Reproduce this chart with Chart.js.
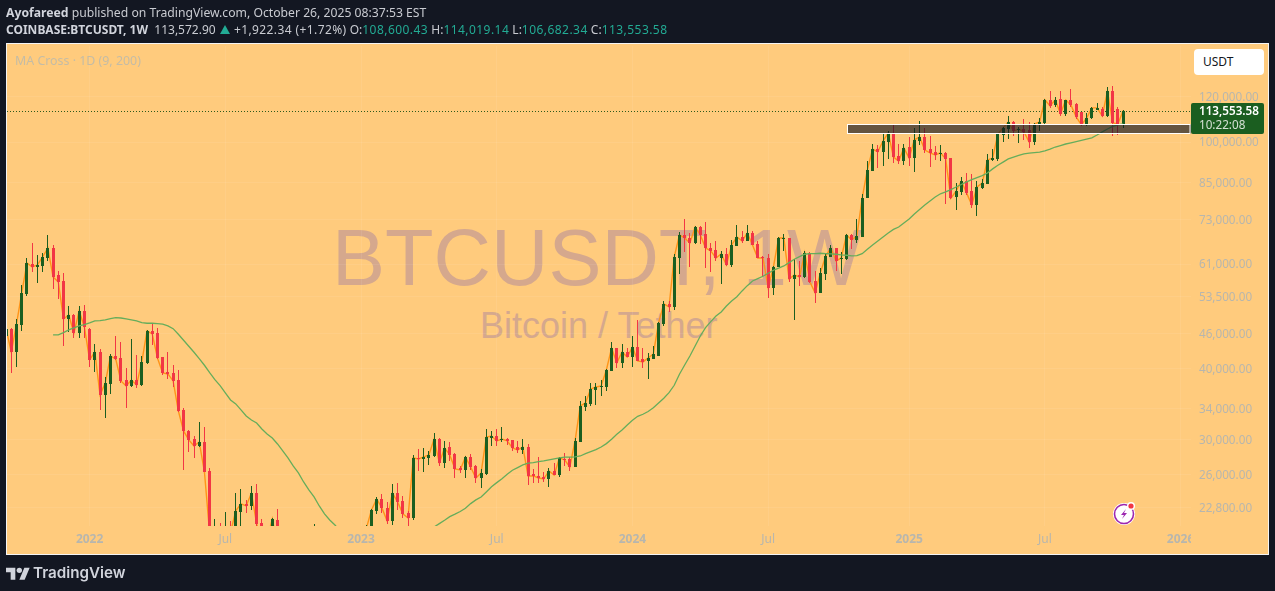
<!DOCTYPE html>
<html>
<head>
<meta charset="utf-8">
<title>BTCUSDT 1W</title>
<script src="https://cdn.jsdelivr.net/npm/chart.js@4"></script>
<style>
  html, body { margin: 0; padding: 0; width: 1275px; height: 591px; overflow: hidden; background: #131722; font-family: "Noto Sans", sans-serif; }
  .abs { position: absolute; white-space: nowrap; }
  #pane { left: 6px; top: 43px; width: 1261px; height: 510px; background: #ffcb7d; border: 1px solid #f5f5f5; }
  #chart { position: absolute; left: 0; top: 0; z-index: 2; }
  .head { left: 6px; font-size: 12.2px; color: #c9cbd1; line-height: 16px; z-index: 3; }
  .head b { color: #d1d4dc; font-weight: 700; }
  .line2 { font-size: 12px; }
  .teal { color: #22ab94; letter-spacing: 0.45px; }
  .chg { letter-spacing: 0.4px; }
  .tri { display: inline-block; width: 0; height: 0; margin: 0 1px 0 1px; border-left: 5px solid transparent; border-right: 5px solid transparent; border-bottom: 9px solid #22ab94; }
  #wm1, #wm2 { font-family: "Liberation Sans", sans-serif; color: #d5a88d; z-index: 1; }
  #wm1 { left: 332px; top: 212px; font-size: 79.5px; line-height: 92px; }
  #wm2 { left: 480px; top: 305px; font-size: 36px; line-height: 42px; }
  #study { left: 15px; top: 53px; font-size: 12.4px; line-height: 16px; color: #c4bca6; z-index: 3; }
  #unit { left: 1194px; top: 49px; width: 61px; height: 26px; padding-left: 9px; line-height: 26px; background: #fff; border-radius: 4px; font-size: 12px; color: #131722; z-index: 3; }
  #tag { left: 1191px; top: 103px; width: 73px; height: 31px; background: #1b5e20; border-radius: 2px; z-index: 3; font-size: 11.7px; line-height: 15px; }
  #tag div { position: absolute; left: 8px; }
  #mask { left: 1191px; top: 527px; width: 77px; height: 27px; background: #ffcb7d; z-index: 3; }
  #flash { left: 1112px; top: 501px; z-index: 3; }
  #logo { left: 6px; top: 565px; z-index: 3; }
  #brand { left: 33px; top: 562px; font-family: Inter, sans-serif; font-weight: 600; font-size: 15.2px; line-height: 22px; color: #d1d4dc; z-index: 3; }
</style>
</head>
<body>
<div class="abs head" style="top:5px"><b>Ayofareed</b> published on TradingView.com, October 26, 2025 08:37:53 EST</div>
<div class="abs head line2" style="top:22px"><b>COINBASE:BTCUSDT, 1W</b>&nbsp; 113,572.90 <span class="tri"></span> <span class="chg">+1,922.34 (+1.72%)</span> O:<span class="teal">108,600.43</span> H:<span class="teal">114,019.14</span> L:<span class="teal">106,682.34</span> C:<span class="teal">113,553.58</span></div>
<div class="abs" id="pane"></div>
<div class="abs" id="wm1">BTCUSDT, 1W</div>
<div class="abs" id="wm2">Bitcoin / Tether</div>
<canvas id="chart" width="1275" height="591"></canvas>
<div class="abs" id="study">MA Cross · 1D (9, 200)</div>
<div class="abs" id="unit">USDT</div>
<div class="abs" id="tag">
  <div style="top:0px;color:#fff;font-weight:600">113,553.58</div>
  <div style="top:14px;color:#d3e0d3">10:22:08</div>
</div>
<div class="abs" id="mask"></div>
<svg class="abs" id="flash" width="26" height="26" viewBox="0 0 26 26">
  <circle cx="12" cy="13" r="11" fill="#fff"/>
  <circle cx="12" cy="13" r="9.5" fill="#fff" stroke="#9c27b0" stroke-width="1.6"/>
  <path d="M14 8l-5 6h3l-2 4 5-6h-3z" fill="#9c27b0"/>
  <circle cx="19" cy="5" r="4" fill="#fff"/>
  <circle cx="19" cy="5" r="2.6" fill="#f23645"/>
</svg>
<svg class="abs" id="logo" width="24" height="16" viewBox="0 0 36 24"><path fill="#d1d4dc" d="M14 22H7V11H0V4h14v18zM28 22h-8l7.5-18h8L28 22z"/><circle fill="#d1d4dc" cx="20" cy="8" r="4"/></svg>
<div class="abs" id="brand">TradingView</div>

<script>
// weekly candles, prices in thousands of USD
const opens = [
  45.6,46.92,42.75,47.69,54.07,61.05,60.3,60.55,62.54,65.13,
  58.39,56.99,48.86,49.66,46.17,50.47,46.92,41.39,42.75,35.92,
  37.56,42.06,41.72,38.17,37.25,38.17,37.41,40.89,46.55,46.17,
  41.89,39.43,39.27,38.17,33.81,31.05,30.06,29.22,29.7,26.41,
  20.5,20.9,19.3,20.8,20.6,22.37,23.11,22.92,24.16,21.4,
  19.6,19.9,21.66,19.5,18.8,19.3,19.4,19.2,19.6,20.6,
  21.0,16.3,16.3,16.4,17.1,17.1,16.8,16.8,16.6,17.1,
  20.9,22.47,23.58,22.74,21.57,24.16,23.39,22.28,21.83,27.84,
  27.73,27.84,28.06,30.06,27.28,29.1,28.3,26.73,26.52,27.95,
  26.95,25.67,26.09,30.18,30.42,29.94,30.06,29.94,29.1,28.76,
  29.1,26.09,25.88,25.77,25.57,26.41,25.98,27.73,27.73,26.84,
  29.7,34.21,34.64,36.66,37.1,37.1,39.59,43.45,40.89,42.75,
  41.89,43.62,41.56,41.23,41.56,42.06,47.89,51.93,51.29,62.54,
  68.65,67.82,66.47,70.9,68.93,65.13,64.61,62.54,63.57,60.8,
  65.66,68.09,67.01,69.22,66.2,62.79,62.54,55.39,60.3,67.55,
  67.82,57.45,58.39,57.91,63.83,56.99,54.29,58.63,62.79,65.13,
  62.29,62.29,68.65,67.28,68.09,79.7,88.9,97.2,96.1,100.0,
  103.8,94.5,92.6,98.0,93.7,100.4,102.1,97.2,96.1,95.3,
  95.7,93.7,80.1,81.7,85.4,82.0,77.5,83.0,84.4,93.0,
  93.4,102.9,105.4,108.5,105.0,105.4,105.0,100.0,107.2,108.0,
  118.6,116.2,119.0,112.0,118.6,116.7,112.9,107.2,110.2,113.9,
  114.3,111.1,122.9,114.3,107.6
];
const highs = [
  47.11,47.11,48.86,56.07,62.54,66.47,63.31,63.83,68.65,65.93,
  59.34,58.87,51.5,49.86,51.5,51.71,47.11,44.16,43.27,38.63,
  42.41,45.61,44.52,40.07,45.06,42.24,42.06,46.74,47.89,47.11,
  41.89,42.75,40.56,39.75,34.08,31.17,30.42,32.2,31.55,26.73,
  21.75,21.4,22.37,21.57,24.16,24.55,23.49,24.85,25.06,21.75,
  20.6,21.8,22.65,20.2,20.3,20.4,19.9,19.7,20.8,21.31,
  21.0,17.1,16.8,17.3,17.4,18.4,17.0,16.9,17.4,21.22,
  22.65,23.77,24.06,23.3,25.06,25.16,23.87,22.47,28.18,28.87,
  28.99,28.64,30.8,30.18,29.82,29.7,28.41,26.95,28.06,28.3,
  27.06,26.62,31.3,31.05,31.3,31.55,30.18,29.94,29.82,30.06,
  29.46,26.62,27.95,26.3,26.73,27.28,27.95,28.41,27.95,30.18,
  35.06,35.78,37.71,37.71,38.17,39.91,44.52,43.45,44.16,43.45,
  45.61,48.67,43.45,42.58,43.8,48.28,52.56,52.56,63.57,69.5,
  73.24,69.22,71.19,71.19,72.36,66.47,67.01,64.35,65.13,67.28,
  71.49,69.78,71.49,69.78,67.01,63.04,63.57,60.55,68.09,68.93,
  67.82,62.29,61.8,64.35,64.09,59.34,60.06,63.83,65.93,65.13,
  64.09,68.93,68.93,73.24,81.1,92.6,99.2,98.8,103.3,104.6,
  107.6,99.2,99.2,102.1,105.9,108.9,105.9,102.5,98.4,98.8,
  96.1,93.7,84.7,86.8,88.2,87.9,85.4,86.1,95.3,97.2,
  103.8,106.3,111.1,108.9,106.3,109.8,108.5,108.0,110.2,119.0,
  122.9,120.0,122.9,118.6,123.9,117.1,112.9,112.5,115.2,117.1,
  115.2,125.0,125.4,115.2,113.9
];
const lows = [
  45.4,39.27,40.23,46.55,53.63,59.1,56.53,59.11,61.8,55.17,
  52.98,43.8,46.36,45.24,45.24,45.24,40.23,39.43,33.81,32.73,
  36.07,41.39,37.71,34.08,37.1,36.95,37.25,40.73,43.98,41.56,
  38.95,38.32,37.1,33.53,26.52,28.49,27.84,29.1,26.3,17.6,
  19.6,18.6,18.8,18.9,20.6,20.7,22.28,22.56,20.8,19.5,
  19.5,18.5,19.3,18.3,18.1,18.9,18.2,18.9,19.3,20.0,
  15.5,15.8,15.5,16.0,16.7,16.5,16.3,16.3,16.5,17.1,
  20.6,22.2,22.28,21.31,21.22,22.56,21.83,19.6,21.66,26.41,
  26.3,27.06,27.95,26.95,26.73,27.51,25.67,26.2,25.67,26.52,
  25.18,24.65,25.98,29.22,29.22,29.7,29.34,28.64,28.41,28.3,
  24.95,25.16,25.16,25.26,24.75,25.98,25.77,26.95,26.41,26.84,
  29.7,33.67,34.35,34.5,35.78,36.51,39.59,40.07,40.07,41.89,
  40.23,41.23,40.07,38.32,41.56,42.06,47.5,50.27,50.67,58.63,
  64.09,60.3,66.2,66.2,60.06,59.1,61.8,56.3,60.55,60.3,
  65.66,66.47,67.01,65.93,62.54,58.15,53.2,53.85,60.3,64.35,
  56.76,48.67,55.84,57.68,56.53,52.14,54.29,57.22,62.79,59.34,
  58.63,62.04,64.87,66.47,68.09,79.7,88.9,90.0,90.8,93.4,
  91.9,91.5,91.1,90.8,88.6,98.8,95.7,90.4,93.0,92.6,
  77.83,79.4,75.97,80.7,80.7,76.6,74.1,82.7,84.4,92.6,
  92.6,100.0,101.3,102.5,99.6,100.9,97.6,98.8,104.6,107.6,
  114.8,115.2,111.1,111.1,115.2,109.8,106.7,106.7,109.8,113.9,
  110.7,110.7,102.5,102.9,105.9
];
const closes = [
  46.92,42.75,47.89,54.29,61.3,60.3,60.8,62.79,65.13,57.91,
  56.76,48.86,49.66,46.17,50.47,47.3,41.39,42.75,35.92,37.71,
  42.06,41.56,38.02,37.25,38.17,37.41,41.06,46.55,45.98,41.72,
  39.27,39.11,38.02,33.67,31.05,29.94,29.22,29.7,26.3,20.5,
  20.9,19.3,20.8,20.6,22.47,23.11,22.92,24.16,21.31,19.9,
  20.0,21.75,19.5,18.8,19.3,19.4,19.2,19.6,20.6,21.0,
  16.3,16.3,16.4,17.1,17.1,16.8,16.8,16.6,17.1,20.9,
  22.56,23.58,22.74,21.57,24.16,23.3,22.2,21.83,27.84,27.73,
  27.95,28.18,30.06,27.28,28.99,28.18,26.62,26.52,27.95,26.84,
  25.67,26.2,30.3,30.42,29.82,30.06,29.82,28.99,28.76,29.1,
  25.88,25.88,25.67,25.57,26.41,25.98,27.84,27.62,26.84,29.82,
  34.35,34.78,36.81,37.1,37.25,39.75,43.45,40.89,42.75,41.89,
  43.62,41.23,41.06,41.72,42.41,48.08,51.93,51.29,62.79,68.65,
  67.82,66.47,70.9,68.65,65.13,64.35,62.54,63.57,60.8,65.93,
  68.09,67.01,69.22,65.93,62.54,62.54,55.39,60.3,67.82,67.82,
  57.45,58.39,57.91,63.83,56.76,54.29,58.87,63.04,65.13,61.8,
  62.54,68.65,67.28,68.37,79.7,89.3,97.2,96.1,100.4,103.8,
  94.1,92.6,97.6,93.7,100.9,102.1,96.8,95.7,94.9,95.7,
  93.4,79.7,82.0,85.4,81.4,77.5,83.4,84.7,93.0,93.7,
  103.3,105.9,108.5,104.6,105.4,104.2,100.0,107.6,108.5,118.6,
  115.7,118.6,112.0,118.6,116.2,110.7,107.2,110.2,114.8,114.8,
  111.1,122.9,108.0,107.6,113.55
];
// the green moving average, starts on week 9
const maLine = [
  null,null,null,null,null,null,null,null,null,45.8,
  45.8,46.23,46.74,47.11,47.5,47.75,48.08,48.47,48.53,48.67,
  48.92,49.11,49.05,48.86,48.67,48.47,48.14,48.02,48.02,47.95,
  47.83,47.5,46.98,45.93,44.83,43.75,42.7,41.61,40.51,39.32,
  38.22,37.3,36.22,35.2,34.64,33.81,33.0,32.46,32.07,31.3,
  30.68,30.18,29.46,28.64,27.84,26.95,26.2,25.26,24.46,23.77,
  22.92,22.2,21.66,21.22,20.7,20.3,19.9,19.6,19.4,19.2,
  19.1,19.0,18.95,18.95,19.0,19.1,19.2,19.4,19.6,19.9,
  20.3,20.7,21.05,21.34,21.63,21.95,22.17,22.41,22.71,23.14,
  23.49,23.77,24.26,24.78,25.19,25.6,26.06,26.49,26.77,27.06,
  27.25,27.32,27.43,27.51,27.62,27.73,27.84,27.92,27.92,27.95,
  28.06,28.33,28.56,28.79,29.1,29.5,30.02,30.64,31.18,31.81,
  32.43,32.95,33.22,33.6,34.11,34.78,35.45,36.26,37.36,39.06,
  40.56,42.06,43.8,45.61,47.17,48.33,49.45,50.27,51.5,52.56,
  53.47,54.73,55.91,56.99,57.52,58.08,58.79,59.51,60.0,60.55,
  61.37,62.22,62.87,63.49,63.65,63.65,63.75,63.65,63.57,63.49,
  63.31,63.23,63.05,63.13,63.65,64.8,65.93,67.01,68.09,69.22,
  70.2,70.9,72.07,73.24,74.75,76.12,77.51,78.78,80.05,81.1,
  81.7,82.5,83.36,84.2,85.1,85.9,86.6,87.3,88.2,89.7,
  91.0,92.2,93.4,94.1,94.7,95.3,95.6,95.8,96.0,96.5,
  97.2,98.0,98.6,99.2,99.7,100.2,100.7,101.2,101.7,102.9,
  104.2,105.4,106.5,107.2,107.6
];
const priceTicks = [120, 100, 85, 73, 61, 53.5, 46, 40, 34, 30, 26, 22.8];
const timeTickWeeks = [16, 42, 68, 94, 120, 146, 173, 199, 225];
const timeTickLabels = ['2022', 'Jul', '2023', 'Jul', '2024', 'Jul', '2025', 'Jul', '2026'];
const zoneTop = 107.6, zoneBottom = 103.8, zoneStartWeek = 161.1;

const UP = '#1b5e20', DOWN = '#f23645';
const weeks = closes.map((c, i) => i);
const candleColors = closes.map((c, i) => c >= opens[i] ? UP : DOWN);

const overlays = {
  id: 'overlays',
  afterDatasetsUpdate(chart) {
    // candles sit on whole pixels, like the original
    [1, 2].forEach(d => chart.getDatasetMeta(d).data.forEach(el => {
      el.x = Math.floor(el.x) + 0.5;
      el.y = Math.round(el.y);
      el.base = Math.round(el.base);
    }));
  },
  beforeDatasetsDraw(chart) {
    // dotted last price line
    const { ctx, chartArea: a, scales } = chart;
    const y = scales.y.getPixelForValue(closes[closes.length - 1]);
    ctx.save();
    ctx.strokeStyle = '#2e5a1c';
    ctx.lineWidth = 1;
    ctx.setLineDash([1, 2]);
    ctx.beginPath();
    ctx.moveTo(a.left, Math.round(y) + 0.5);
    ctx.lineTo(a.right, Math.round(y) + 0.5);
    ctx.stroke();
    ctx.restore();
  },
  afterDatasetsDraw(chart) {
    // support zone drawn over the candles
    const { ctx, chartArea: a, scales } = chart;
    const x = Math.round(scales.x.getPixelForValue(zoneStartWeek)) + 0.5;
    const t = Math.round(scales.y.getPixelForValue(zoneTop)) + 0.5;
    const b = Math.round(scales.y.getPixelForValue(zoneBottom)) + 0.5;
    ctx.save();
    ctx.fillStyle = 'rgba(19,23,34,0.66)';
    ctx.fillRect(x, t, a.right - x, b - t);
    ctx.strokeStyle = '#fff';
    ctx.lineWidth = 1;
    ctx.strokeRect(x, t, a.right - x - 1, b - t);
    ctx.restore();
  }
};

const isYear = c => c.tick && /\d/.test(c.tick.label);

new Chart(document.getElementById('chart'), {
  data: {
    datasets: [
      { type: 'line', data: weeks.map(i => ({ x: i, y: maLine[i] })), borderColor: '#66ad5b', borderWidth: 1.3, pointRadius: 0, tension: 0, clip: 0, order: 0 },
      { type: 'bar', data: weeks.map(i => ({ x: i, y: [Math.min(opens[i], closes[i]), Math.max(opens[i], closes[i])] })), backgroundColor: candleColors, barThickness: 3, grouped: false, borderSkipped: false, inflateAmount: 0, clip: 0, order: 1 },
      { type: 'bar', data: weeks.map(i => ({ x: i, y: [lows[i], highs[i]] })), backgroundColor: candleColors, barThickness: 1, grouped: false, borderSkipped: false, inflateAmount: 0, clip: 0, order: 2 },
      { type: 'line', data: weeks.map(i => ({ x: i, y: closes[i] })), borderColor: '#ff9418', borderWidth: 1.4, pointRadius: 0, tension: 0, clip: 0, order: 3 }
    ]
  },
  options: {
    responsive: false,
    animation: false,
    devicePixelRatio: 1,
    layout: { padding: { left: 7, top: 46, right: 0, bottom: 0 } },
    plugins: { legend: { display: false }, tooltip: { enabled: false } },
    scales: {
      x: {
        type: 'linear',
        offset: false,
        min: 0.175,
        max: 227,
        afterBuildTicks(scale) { scale.ticks = timeTickWeeks.map(v => ({ value: v })); },
        afterFit(scale) { scale.height = 65; },
        grid: { color: 'rgba(255,255,255,0.07)', drawTicks: false, offset: false },
        border: { display: false },
        ticks: {
          autoSkip: false,
          maxRotation: 0,
          padding: 6,
          color: '#b7b6ae',
          font: c => ({ family: 'Noto Sans', size: 12, weight: isYear(c) ? '700' : '400' }),
          callback: v => timeTickLabels[timeTickWeeks.indexOf(v)]
        }
      },
      y: {
        type: 'logarithmic',
        position: 'right',
        min: 21.135,
        max: 147.5,
        afterBuildTicks(scale) { scale.ticks = priceTicks.map(v => ({ value: v })); },
        afterFit(scale) { scale.width = 84; },
        grid: { color: 'rgba(255,255,255,0.07)', drawTicks: false },
        border: { display: false },
        ticks: {
          autoSkip: false,
          padding: 8,
          color: '#b7b6ae',
          // empty first line nudges the text down to the grid line
          font: { family: 'Noto Sans', size: 11.7, lineHeight: '2px' },
          callback: v => ['', (v * 1000).toLocaleString('en-US', { minimumFractionDigits: 2, maximumFractionDigits: 2 })]
        }
      }
    }
  },
  plugins: [overlays]
});
</script>
</body>
</html>
